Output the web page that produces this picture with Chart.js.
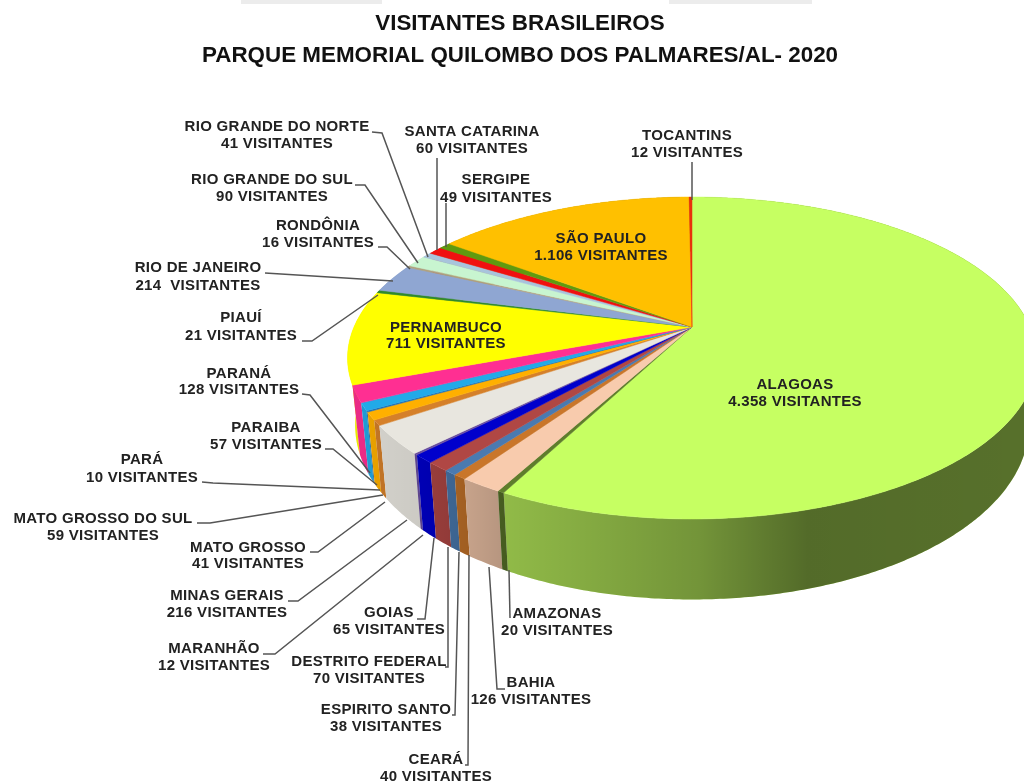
<!DOCTYPE html>
<html>
<head>
<meta charset="utf-8">
<title>Visitantes brasileiros</title>
<script src="https://cdn.jsdelivr.net/npm/chart.js@4"></script>
<style>
  html, body { margin: 0; background: #fff; }
  #box { position: relative; width: 1024px; height: 783px; }
  .faixa { position: absolute; top: 0; height: 4px; background: #ececec; }
</style>
</head>
<body>
<div id="box">
  <div class="faixa" style="left:241px;width:141px"></div>
  <div class="faixa" style="left:669px;width:143px"></div>
  <canvas id="grafico"></canvas>
</div>
<script>
const titulo = ["VISITANTES BRASILEIROS", "PARQUE MEMORIAL QUILOMBO DOS PALMARES/AL- 2020"];

const estados = ["ALAGOAS", "AMAZONAS", "BAHIA", "CEARÁ", "ESPIRITO SANTO", "DESTRITO FEDERAL", "GOIAS", "MARANHÃO",
  "MINAS GERAIS", "MATO GROSSO", "MATO GROSSO DO SUL", "PARÁ", "PARAIBA", "PARANÁ", "PERNAMBUCO", "PIAUÍ",
  "RIO DE JANEIRO", "RONDÔNIA", "RIO GRANDE DO SUL", "RIO GRANDE DO NORTE", "SANTA CATARINA", "SERGIPE", "SÃO PAULO", "TOCANTINS"];

const visitantes = [4358, 20, 126, 40, 38, 70, 65, 12, 216, 41, 59, 10, 57, 128, 711, 21, 214, 16, 90, 41, 60, 49, 1106, 12];

const cores = ["#c6ff62", "#5f7d2c", "#f8cbad", "#c9762a", "#4a7ab0", "#b04744", "#0000cc", "#6a4fa0",
  "#e8e6df", "#d5802a", "#ffb000", "#1f6fb5", "#22aae8", "#ff2f92", "#ffff00", "#2f8a2a",
  "#8fa6d2", "#b0a080", "#c8f5d0", "#a8c4dc", "#f01010", "#5f9a10", "#ffc000", "#e8300c"];

// onde vai o texto de cada estado: centro x, y da 1a linha, y da 2a linha
const posTexto = [[795, 385, 402], [557, 614, 631], [531, 683, 700], [436, 760, 777], [386, 710, 727], [369, 662, 679],
  [389, 613, 630], [214, 649, 666], [227, 596, 613], [248, 548, 564], [103, 519, 536], [142, 460, 478],
  [266, 428, 445], [239, 374, 390], [446, 328, 344], [241, 318, 336], [198, 268, 286], [318, 226, 243],
  [272, 180, 197], [277, 127, 144], [472, 132, 149], [496, 180, 198], [601, 239, 256], [687, 136, 153]];

// linhas de chamada
const chamadas = [null,
  [[510, 618], [509, 570]],
  [[505, 689], [497, 689], [489, 567]],
  [[465, 765], [468, 765], [469, 555]],
  [[452, 715], [455, 715], [459, 552]],
  [[445, 667], [448, 667], [448, 547]],
  [[417, 619], [425, 619], [434, 538]],
  [[263, 654], [275, 654], [423, 535]],
  [[288, 601], [298, 601], [407, 520]],
  [[310, 552], [318, 552], [385, 502]],
  [[197, 523], [210, 523], [383, 495]],
  [[202, 482], [213, 483], [380, 490]],
  [[325, 449], [333, 449], [377, 485]],
  [[302, 394], [310, 395], [370, 473]],
  null,
  [[302, 341], [312, 341], [378, 295]],
  [[265, 273], [393, 281]],
  [[378, 247], [387, 247], [410, 269]],
  [[355, 185], [365, 185], [418, 263]],
  [[372, 132], [382, 133], [428, 257]],
  [[437, 158], [437, 250]],
  [[446, 203], [446, 247]],
  null,
  [[692, 162], [692, 200]]];

// perspectiva da pizza
const cx = 692, cy = 327, raioX = 338, raioY = 155, persp = 0.1925, altura = 65, fuga = 0.022;

function topo(ang) {
  const u = Math.cos(ang), v = Math.sin(ang), w = 1 - persp * v;
  return [cx + raioX * u / w, cy + raioY * v / w];
}

function base(ang) {
  const p = topo(ang), w = 1 - persp * Math.sin(ang);
  return [cx + (p[0] - cx) * (1 - fuga), p[1] + altura / w];
}

function amostras(a0, a1) {
  const n = Math.max(2, Math.ceil((a1 - a0) / 0.01)), lista = [];
  for (let i = 0; i <= n; i++) lista.push(a0 + (a1 - a0) * i / n);
  return lista;
}

function escrever(ctx, i) {
  const qtd = String(visitantes[i]).replace(/\B(?=(\d{3})+$)/g, ".");
  const segunda = qtd + (i === 16 ? "  VISITANTES" : " VISITANTES");
  ctx.fillText(estados[i], posTexto[i][0], posTexto[i][1]);
  ctx.fillText(segunda, posTexto[i][0], posTexto[i][2]);
}

const pizza3d = {
  id: "pizza3d",
  beforeDatasetsDraw(chart) {
    const ctx = chart.ctx, arcos = chart.getDatasetMeta(0).data;
    ctx.save();

    // sombra da lateral, mais escura a direita
    const sombra = ctx.createLinearGradient(347, 0, 1024, 0);
    sombra.addColorStop(0, "rgba(0,0,0,0.08)");
    sombra.addColorStop(0.11, "rgba(0,0,0,0.12)");
    sombra.addColorStop(0.235, "rgba(0,0,0,0.27)");
    sombra.addColorStop(0.52, "rgba(0,0,0,0.42)");
    sombra.addColorStop(0.68, "rgba(0,0,0,0.58)");
    sombra.addColorStop(1, "rgba(0,0,0,0.56)");

    // laterais primeiro, de tras para frente
    const ordem = arcos.map((a, i) => i).sort((a, b) =>
      Math.sin((arcos[a].startAngle + arcos[a].endAngle) / 2) - Math.sin((arcos[b].startAngle + arcos[b].endAngle) / 2));
    ordem.forEach(i => {
      const pontos = amostras(arcos[i].startAngle, arcos[i].endAngle);
      const ida = pontos.map(topo), volta = pontos.slice().reverse().map(base);
      ctx.beginPath();
      ida.concat(volta).forEach((p, k) => k ? ctx.lineTo(p[0], p[1]) : ctx.moveTo(p[0], p[1]));
      ctx.closePath();
      ctx.fillStyle = arcos[i].options.backgroundColor;
      ctx.fill();
      ctx.fillStyle = sombra;
      ctx.fill();
    });

    // tampa
    arcos.forEach(arco => {
      ctx.beginPath();
      ctx.moveTo(cx, cy);
      amostras(arco.startAngle, arco.endAngle).map(topo).forEach(p => ctx.lineTo(p[0], p[1]));
      ctx.closePath();
      ctx.fillStyle = arco.options.backgroundColor;
      ctx.strokeStyle = arco.options.backgroundColor;
      ctx.lineWidth = 0.5;
      ctx.fill();
      ctx.stroke();
    });

    // linhas de chamada e textos
    ctx.strokeStyle = "#555";
    ctx.lineWidth = 1.5;
    chamadas.forEach(linha => {
      if (!linha) return;
      ctx.beginPath();
      linha.forEach((p, k) => k ? ctx.lineTo(p[0], p[1]) : ctx.moveTo(p[0], p[1]));
      ctx.stroke();
    });
    ctx.fillStyle = "#222";
    ctx.font = "bold 15px 'Liberation Sans'";
    ctx.letterSpacing = "0.3px";
    ctx.textAlign = "center";
    ctx.textBaseline = "middle";
    estados.forEach((nome, i) => escrever(ctx, i));

    ctx.restore();
    return false;
  }
};

new Chart(document.getElementById("grafico"), {
  type: "pie",
  data: {
    labels: estados,
    datasets: [{ data: visitantes, backgroundColor: cores, borderWidth: 0 }]
  },
  options: {
    responsive: true,
    maintainAspectRatio: false,
    animation: false,
    layout: { padding: { left: 16 } },
    plugins: {
      legend: { display: false },
      tooltip: { enabled: false },
      title: {
        display: true,
        text: titulo,
        color: "#111",
        padding: { top: 8, bottom: 0 },
        font: { family: "'Liberation Sans'", size: 22.4, weight: "bold", lineHeight: 1.43 }
      }
    }
  },
  plugins: [pizza3d]
});
</script>
</body>
</html>
